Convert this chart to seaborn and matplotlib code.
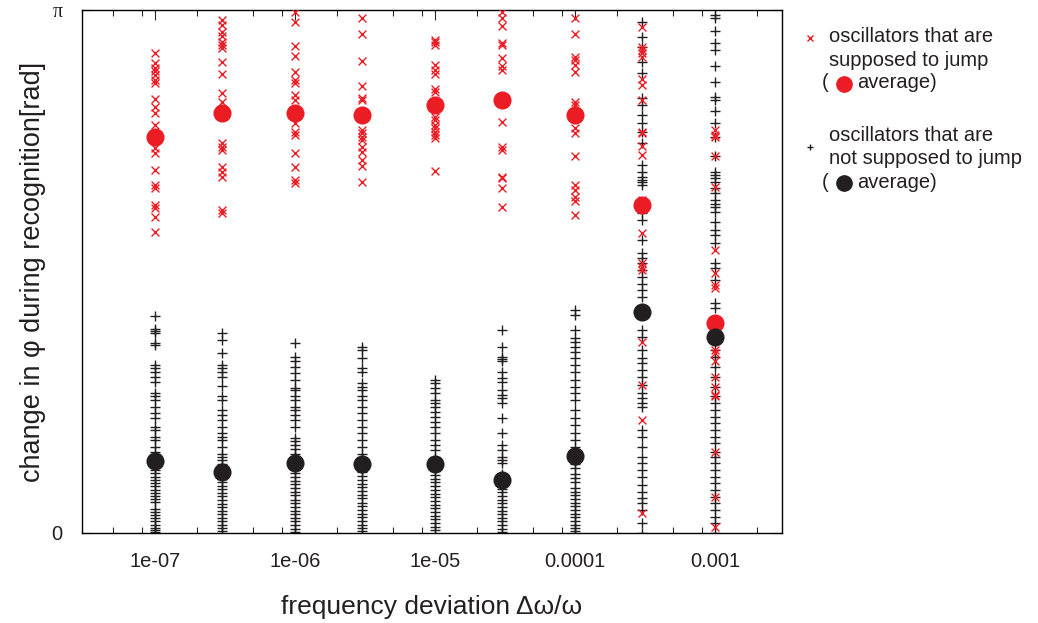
import numpy as np
import pandas as pd
import matplotlib
matplotlib.use("Agg")
import matplotlib.pyplot as plt
import matplotlib.ticker as mticker
from matplotlib.lines import Line2D
import seaborn as sns

# frequency deviations (x positions of the columns)
deviations = [1e-7, 3e-7, 1e-6, 3e-6, 1e-5, 3e-5, 1e-4, 3e-4, 1e-3]

# phase change in units of pi
# oscillators that are supposed to jump (red x)
jump = {
    1e-7: [0.918, 0.898, 0.890, 0.884, 0.876, 0.866, 0.860, 0.829, 0.814, 0.804, 0.781,
           0.736, 0.726, 0.694, 0.665, 0.659, 0.627, 0.621, 0.604, 0.576],
    3e-7: [0.981, 0.971, 0.958, 0.950, 0.939, 0.933, 0.927, 0.901, 0.878, 0.841, 0.825,
           0.745, 0.739, 0.732, 0.700, 0.691, 0.681, 0.618, 0.612],
    1e-6: [0.996, 0.977, 0.931, 0.912, 0.882, 0.866, 0.860, 0.837, 0.828, 0.783, 0.767,
           0.761, 0.726, 0.700, 0.675, 0.670],
    3e-6: [0.985, 0.954, 0.903, 0.855, 0.831, 0.828, 0.771, 0.764, 0.758, 0.751, 0.739,
           0.729, 0.713, 0.702, 0.672],
    1e-5: [0.943, 0.938, 0.933, 0.895, 0.885, 0.878, 0.848, 0.844, 0.796, 0.790, 0.780,
           0.774, 0.767, 0.761, 0.755, 0.693],
    3e-5: [0.996, 0.985, 0.969, 0.936, 0.933, 0.908, 0.892, 0.885, 0.786, 0.739, 0.732,
           0.681, 0.678, 0.659, 0.624],
    1e-4: [0.984, 0.954, 0.911, 0.904, 0.895, 0.882, 0.825, 0.818, 0.774, 0.764, 0.720,
           0.665, 0.656, 0.643, 0.634, 0.608],
    3e-4: [0.968, 0.930, 0.924, 0.917, 0.911, 0.869, 0.857, 0.828, 0.767, 0.764, 0.740,
           0.723, 0.637, 0.573, 0.516, 0.509, 0.503, 0.366, 0.283, 0.216, 0.038],
    1e-3: [0.771, 0.761, 0.758, 0.720, 0.662, 0.541, 0.497, 0.474, 0.468, 0.350, 0.344,
           0.328, 0.299, 0.280, 0.264, 0.261, 0.155, 0.069, 0.012],
}

# oscillators that are not supposed to jump (black +)
nojump = {
    1e-7: [0.414, 0.391, 0.387, 0.382, 0.364, 0.359, 0.321, 0.315, 0.308, 0.299, 0.289,
           0.267, 0.261, 0.254, 0.241, 0.229, 0.219, 0.203, 0.197, 0.184, 0.178, 0.165,
           0.155, 0.146, 0.140, 0.133, 0.128, 0.121, 0.115, 0.108, 0.102, 0.096, 0.090,
           0.083, 0.077, 0.071, 0.065, 0.059, 0.046, 0.040, 0.034, 0.028, 0.022, 0.016,
           0.010, 0.005, 0.001],
    3e-7: [0.382, 0.369, 0.344, 0.321, 0.315, 0.308, 0.299, 0.281, 0.261, 0.254, 0.235,
           0.226, 0.216, 0.203, 0.191, 0.184, 0.178, 0.165, 0.152, 0.146, 0.140, 0.131,
           0.124, 0.118, 0.111, 0.104, 0.097, 0.090, 0.084, 0.077, 0.070, 0.063, 0.056,
           0.049, 0.043, 0.036, 0.029, 0.022, 0.015, 0.009, 0.003],
    1e-6: [0.363, 0.337, 0.328, 0.318, 0.305, 0.293, 0.277, 0.273, 0.261, 0.254, 0.241,
           0.235, 0.226, 0.216, 0.203, 0.181, 0.175, 0.168, 0.160, 0.152, 0.145, 0.137,
           0.130, 0.122, 0.115, 0.108, 0.100, 0.093, 0.086, 0.079, 0.072, 0.064, 0.057,
           0.050, 0.043, 0.036, 0.029, 0.022, 0.015, 0.008, 0.002],
    3e-6: [0.356, 0.350, 0.334, 0.315, 0.308, 0.286, 0.280, 0.273, 0.261, 0.254, 0.241,
           0.229, 0.216, 0.203, 0.191, 0.178, 0.165, 0.152, 0.144, 0.137, 0.130, 0.123,
           0.116, 0.109, 0.101, 0.094, 0.087, 0.080, 0.073, 0.066, 0.058, 0.051, 0.044,
           0.037, 0.030, 0.023, 0.016, 0.009, 0.003],
    1e-5: [0.293, 0.286, 0.277, 0.267, 0.254, 0.248, 0.241, 0.232, 0.222, 0.213, 0.203,
           0.191, 0.178, 0.168, 0.159, 0.146, 0.139, 0.132, 0.125, 0.118, 0.111, 0.104,
           0.097, 0.090, 0.083, 0.075, 0.068, 0.061, 0.054, 0.047, 0.040, 0.033, 0.026,
           0.019, 0.012, 0.005],
    3e-5: [0.388, 0.356, 0.337, 0.332, 0.328, 0.308, 0.296, 0.289, 0.273, 0.264, 0.258,
           0.248, 0.219, 0.191, 0.168, 0.159, 0.146, 0.140, 0.133, 0.112, 0.105, 0.098,
           0.091, 0.085, 0.078, 0.071, 0.064, 0.057, 0.050, 0.043, 0.036, 0.029, 0.022,
           0.015, 0.008, 0.002],
    1e-4: [0.426, 0.417, 0.388, 0.372, 0.366, 0.356, 0.347, 0.334, 0.321, 0.308, 0.293,
           0.280, 0.267, 0.254, 0.235, 0.219, 0.207, 0.191, 0.178, 0.165, 0.152, 0.145,
           0.138, 0.131, 0.124, 0.112, 0.105, 0.098, 0.086, 0.079, 0.072, 0.065, 0.058,
           0.051, 0.044, 0.037, 0.030, 0.023, 0.016, 0.009, 0.003],
    3e-4: [0.978, 0.949, 0.930, 0.901, 0.879, 0.831, 0.818, 0.799, 0.783, 0.767, 0.745,
           0.704, 0.691, 0.681, 0.675, 0.672, 0.665, 0.611, 0.598, 0.560, 0.535, 0.525,
           0.516, 0.503, 0.490, 0.477, 0.465, 0.452, 0.388, 0.375, 0.350, 0.334, 0.325,
           0.312, 0.299, 0.283, 0.267, 0.258, 0.248, 0.241, 0.197, 0.184, 0.165, 0.146,
           0.133, 0.120, 0.107, 0.092, 0.079, 0.066, 0.057, 0.044, 0.019, 0.000],
    1e-3: [0.990, 0.984, 0.959, 0.936, 0.924, 0.892, 0.863, 0.834, 0.828, 0.806, 0.783,
           0.758, 0.720, 0.691, 0.685, 0.678, 0.672, 0.659, 0.650, 0.637, 0.630, 0.624,
           0.614, 0.595, 0.579, 0.570, 0.554, 0.516, 0.506, 0.484, 0.439, 0.430, 0.375,
           0.350, 0.337, 0.318, 0.299, 0.280, 0.261, 0.248, 0.235, 0.222, 0.210, 0.197,
           0.184, 0.172, 0.155, 0.146, 0.133, 0.120, 0.107, 0.095, 0.082, 0.069, 0.057,
           0.044, 0.031, 0.019, 0.000],
}

# averages (big dots)
jump_avg = [0.757, 0.803, 0.803, 0.799, 0.818, 0.828, 0.799, 0.627, 0.402]
nojump_avg = [0.138, 0.117, 0.134, 0.132, 0.132, 0.101, 0.147, 0.423, 0.375]

RED = "#ec1c24"
BLACK = "#231f20"

df_jump = pd.DataFrame([(d, v) for d in deviations for v in jump[d]], columns=["dev", "phase"])
df_nojump = pd.DataFrame([(d, v) for d in deviations for v in nojump[d]], columns=["dev", "phase"])
df_avg = pd.DataFrame({"dev": deviations, "jump": jump_avg, "nojump": nojump_avg})

sns.set_style("ticks")
plt.rcParams["font.family"] = ["Liberation Sans", "DejaVu Sans"]

fig = plt.figure(figsize=(10.38, 6.23), dpi=100)
ax = fig.add_axes([82 / 1038, 90 / 623, 700 / 1038, 523 / 623])

sns.scatterplot(data=df_nojump, x="dev", y="phase", marker="+", color=BLACK,
                s=55, linewidth=1.0, ax=ax, zorder=2)
sns.scatterplot(data=df_jump, x="dev", y="phase", marker="x", color=RED,
                s=32, linewidth=1.0, ax=ax, zorder=3)
sns.scatterplot(data=df_avg, x="dev", y="jump", marker="o", color=RED,
                s=170, linewidth=0, ax=ax, zorder=4)
sns.scatterplot(data=df_avg, x="dev", y="nojump", marker="o", color=BLACK,
                s=170, linewidth=0, ax=ax, zorder=5)

ax.set_xscale("log")
ax.set_xlim(3e-8, 3e-3)
ax.set_ylim(0, 1)
ax.xaxis.set_major_locator(mticker.FixedLocator(deviations[::2]))
ax.set_xticklabels(["1e-07", "1e-06", "1e-05", "0.0001", "0.001"], fontsize=14.5, color="#231f20")
ax.xaxis.set_minor_locator(mticker.LogLocator(base=10, subs=(2.0, 5.0, 8.0), numticks=20))
ax.xaxis.set_minor_formatter(mticker.NullFormatter())
ax.set_yticks([0, 1])
ax.set_yticklabels(["0", "π"], fontsize=14.5, color="#231f20")
ax.get_yticklabels()[1].set_family("Liberation Serif")
ax.tick_params(which="major", direction="in", length=7, width=0.8, top=True, right=True)
ax.tick_params(which="minor", direction="in", length=4, width=0.8, top=True, right=True)
ax.tick_params(axis="x", pad=14)
ax.tick_params(axis="y", pad=14)
for s in ax.spines.values():
    s.set_linewidth(1.0)
    s.set_color("black")

ax.set_xlabel("frequency deviation Δω/ω", fontsize=19, color="#231f20", labelpad=17)
ax.set_ylabel("change in φ during recognition[rad]", fontsize=19.5, color="#231f20", labelpad=4)

# legend block on the right
fs = 14.5
def ftxt(x, y, s, **kw):
    fig.text(x / 1038, 1 - y / 623, s, fontsize=fs, color="#231f20", va="center", ha="left", **kw)

fig.add_artist(Line2D([810 / 1038], [1 - 38 / 623], transform=fig.transFigure, marker="x",
                      color=RED, ms=5, mew=1.0, linestyle="none"))
ftxt(829, 37, "oscillators that are")
ftxt(829, 60, "supposed to jump")
ftxt(822, 83, "(")
fig.add_artist(Line2D([844 / 1038], [1 - 84 / 623], transform=fig.transFigure, marker="o",
                      color=RED, ms=11, linestyle="none"))
ftxt(857, 83, "average)")

fig.add_artist(Line2D([810 / 1038], [1 - 147 / 623], transform=fig.transFigure, marker="+",
                      color=BLACK, ms=5, mew=1.0, linestyle="none"))
ftxt(829, 135, "oscillators that are")
ftxt(829, 158, "not supposed to jump")
ftxt(822, 182, "(")
fig.add_artist(Line2D([844 / 1038], [1 - 183 / 623], transform=fig.transFigure, marker="o",
                      color=BLACK, ms=11, linestyle="none"))
ftxt(857, 182, "average)")

fig.savefig("out.png", dpi=100)
